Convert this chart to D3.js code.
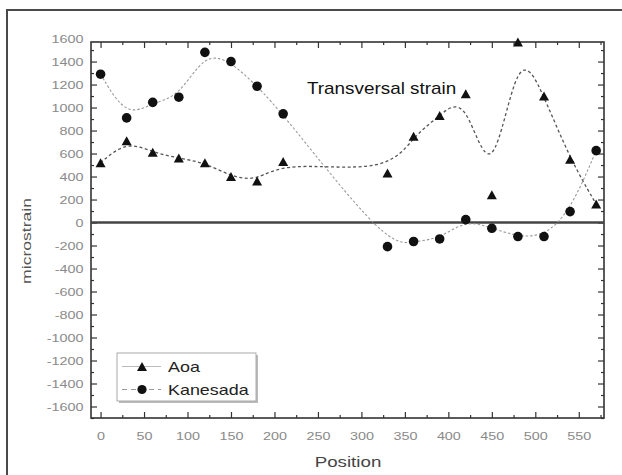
<!DOCTYPE html>
<html>
<head>
<meta charset="utf-8">
<script src="https://cdn.jsdelivr.net/npm/d3@7"></script>
<style>
  html, body { margin: 0; padding: 0; background: #fff; }
  svg { display: block; font-family: Arial, "Liberation Sans", sans-serif; }
</style>
</head>
<body>
<svg id="chart" width="622" height="475"></svg>
<script>
// Measurement positions along the member
const positions = [0, 30, 60, 90, 120, 150, 180, 210, 330, 360, 390, 420, 450, 480, 510, 540, 570];
// Strain readings (microstrain)
const aoaValues      = [520, 710, 610, 560, 520, 400, 360, 530, 430, 750, 930, 1120, 240, 1570, 1100, 550, 160];
const kanesadaValues = [1290, 910, 1045, 1090, 1480, 1400, 1185, 945, -210, -165, -143, 25, -50, -122, -122, 95, 625];

const seriesNames = ["Aoa", "Kanesada"];
const xTickLabels = [0, 50, 100, 150, 200, 250, 300, 350, 400, 450, 500, 550];
const xMinorTicks = [25, 75, 125, 175, 225, 275, 325, 375, 425, 475, 525, 575];
const yTickLabels = [-1600, -1400, -1200, -1000, -800, -600, -400, -200, 0, 200, 400, 600, 800, 1000, 1200, 1400, 1600];
const yMinorTicks = [-1700, -1500, -1300, -1100, -900, -700, -500, -300, -100, 100, 300, 500, 700, 900, 1100, 1300, 1500];
const referenceLevel = 0;
const annotation = "Transversal strain";

const svg = d3.select("#chart");

// outer frame (runs off the right and bottom edges)
svg.append("rect")
  .attr("x", 7).attr("y", 10).attr("width", 640).attr("height", 490)
  .attr("fill", "none").attr("stroke", "#4a4a4a").attr("stroke-width", 2);

const box = { left: 91, right: 604, top: 42, bottom: 418 };
const x = d3.scaleLinear().domain([-11, 579]).range([box.left, box.right]);
const y = d3.scaleLinear().domain([-1700, 1570]).range([box.bottom, box.top]);

const tickColor = "#333";
const labelColor = "#8a8a8a";
const sx = 1.25; // wide tick-label glyphs
const plainNumber = d => String(d); // ASCII hyphen for negatives

function styleAxis(g) {
  g.select(".domain").remove();
  g.selectAll(".tick line").attr("stroke", tickColor).attr("stroke-width", 1.2);
}

// bottom axis: minor + major ticks, labels
svg.append("g").attr("transform", `translate(0,${box.bottom})`)
  .call(d3.axisBottom(x).tickValues(xMinorTicks).tickSize(-3).tickFormat(""))
  .call(styleAxis);
const xb = svg.append("g").attr("transform", `translate(0,${box.bottom})`)
  .call(d3.axisBottom(x).tickValues(xTickLabels).tickSize(-6).tickPadding(14).tickFormat(plainNumber))
  .call(styleAxis);
xb.selectAll(".tick text")
  .attr("fill", labelColor).attr("font-size", 11.5)
  .attr("transform", `scale(${sx},1)`);

// top axis: ticks only
svg.append("g").attr("transform", `translate(0,${box.top})`)
  .call(d3.axisTop(x).tickValues(xMinorTicks).tickSize(-3).tickFormat(""))
  .call(styleAxis);
svg.append("g").attr("transform", `translate(0,${box.top})`)
  .call(d3.axisTop(x).tickValues(xTickLabels).tickSize(-6).tickFormat(""))
  .call(styleAxis);

// left axis
svg.append("g").attr("transform", `translate(${box.left},0)`)
  .call(d3.axisLeft(y).tickValues(yMinorTicks).tickSize(-3).tickFormat(""))
  .call(styleAxis);
const yl = svg.append("g").attr("transform", `translate(${box.left},0)`)
  .call(d3.axisLeft(y).tickValues(yTickLabels).tickSize(-6).tickPadding(6).tickFormat(plainNumber))
  .call(styleAxis);
yl.selectAll(".tick text")
  .attr("fill", labelColor).attr("font-size", 11.5)
  .attr("transform", `scale(${sx},1)`);
yl.selectAll(".tick").filter(d => d > y.domain()[1]).select("line").remove();

// right axis
svg.append("g").attr("transform", `translate(${box.right},0)`)
  .call(d3.axisRight(y).tickValues(yMinorTicks).tickSize(-3).tickFormat(""))
  .call(styleAxis);
const yr = svg.append("g").attr("transform", `translate(${box.right},0)`)
  .call(d3.axisRight(y).tickValues(yTickLabels).tickSize(-6).tickFormat(""))
  .call(styleAxis);
yr.selectAll(".tick").filter(d => d > y.domain()[1]).remove();

// plot frame
svg.append("rect")
  .attr("x", box.left).attr("y", box.top)
  .attr("width", box.right - box.left).attr("height", box.bottom - box.top)
  .attr("fill", "none").attr("stroke", "#333").attr("stroke-width", 1.6);

// zero reference line
svg.append("line")
  .attr("x1", box.left).attr("x2", box.right)
  .attr("y1", y(referenceLevel)).attr("y2", y(referenceLevel))
  .attr("stroke", "#444").attr("stroke-width", 2.4);

// smoothed B-spline curves through the readings
const line = d3.line().x(d => x(d[0])).y(d => y(d[1])).curve(d3.curveBasis);
const aoa = positions.map((p, i) => [p, aoaValues[i]]);
const kan = positions.map((p, i) => [p, kanesadaValues[i]]);

const styles = {
  Aoa: { stroke: "#555", width: 1.3, dash: "3,2.5", legendStroke: "#bbb", legendDash: null },
  Kanesada: { stroke: "#9a9a9a", width: 1.1, dash: "2.5,2", legendStroke: "#999", legendDash: "5,4" }
};

svg.append("path").datum(kan).attr("d", line)
  .attr("fill", "none").attr("stroke", styles.Kanesada.stroke)
  .attr("stroke-width", styles.Kanesada.width).attr("stroke-dasharray", styles.Kanesada.dash);
svg.append("path").datum(aoa).attr("d", line)
  .attr("fill", "none").attr("stroke", styles.Aoa.stroke)
  .attr("stroke-width", styles.Aoa.width).attr("stroke-dasharray", styles.Aoa.dash);

function trianglePath(cx, cy) {
  const p = d3.path();
  p.moveTo(cx, cy - 4.6);
  p.lineTo(cx + 5, cy + 4.4);
  p.lineTo(cx - 5, cy + 4.4);
  p.closePath();
  return p.toString();
}

svg.append("g").selectAll("path").data(aoa).join("path")
  .attr("d", d => trianglePath(x(d[0]), y(d[1])))
  .attr("fill", "#111");

svg.append("g").selectAll("circle").data(kan).join("circle")
  .attr("cx", d => x(d[0])).attr("cy", d => y(d[1])).attr("r", 4.8)
  .attr("fill", "#111");

// annotation
svg.append("text")
  .attr("transform", `translate(307,94) scale(1.18,1)`)
  .attr("font-size", 16).attr("fill", "#111")
  .text(annotation);

// axis titles
svg.append("text")
  .attr("transform", `translate(348,467) scale(1.25,1)`)
  .attr("text-anchor", "middle").attr("font-size", 15).attr("fill", "#444")
  .text("Position");
svg.append("text")
  .attr("transform", `translate(31,241) rotate(-90) scale(1.35,1)`)
  .attr("text-anchor", "middle").attr("font-size", 13).attr("fill", "#555")
  .text("microstrain");

// legend
const lg = svg.append("g");
lg.append("rect").attr("x", 119).attr("y", 355).attr("width", 139).attr("height", 48)
  .attr("fill", "#bbb");
lg.append("rect").attr("x", 117).attr("y", 353).attr("width", 139).attr("height", 48)
  .attr("fill", "#fff").attr("stroke", "#aaa").attr("stroke-width", 1);

const rows = [
  { name: seriesNames[0], yc: 366.5 },
  { name: seriesNames[1], yc: 389.5 }
];
rows.forEach(r => {
  const st = styles[r.name];
  lg.append("line").attr("x1", 122).attr("x2", 161).attr("y1", r.yc).attr("y2", r.yc)
    .attr("stroke", st.legendStroke).attr("stroke-width", 1)
    .attr("stroke-dasharray", st.legendDash);
  if (r.name === "Aoa") {
    lg.append("path").attr("d", trianglePath(142, r.yc)).attr("fill", "#111");
  } else {
    lg.append("circle").attr("cx", 142).attr("cy", r.yc).attr("r", 4.6).attr("fill", "#111");
  }
  lg.append("text")
    .attr("transform", `translate(168,${r.yc + 5.2}) scale(1.28,1)`)
    .attr("font-size", 14).attr("fill", "#222")
    .text(r.name);
});
</script>
</body>
</html>
